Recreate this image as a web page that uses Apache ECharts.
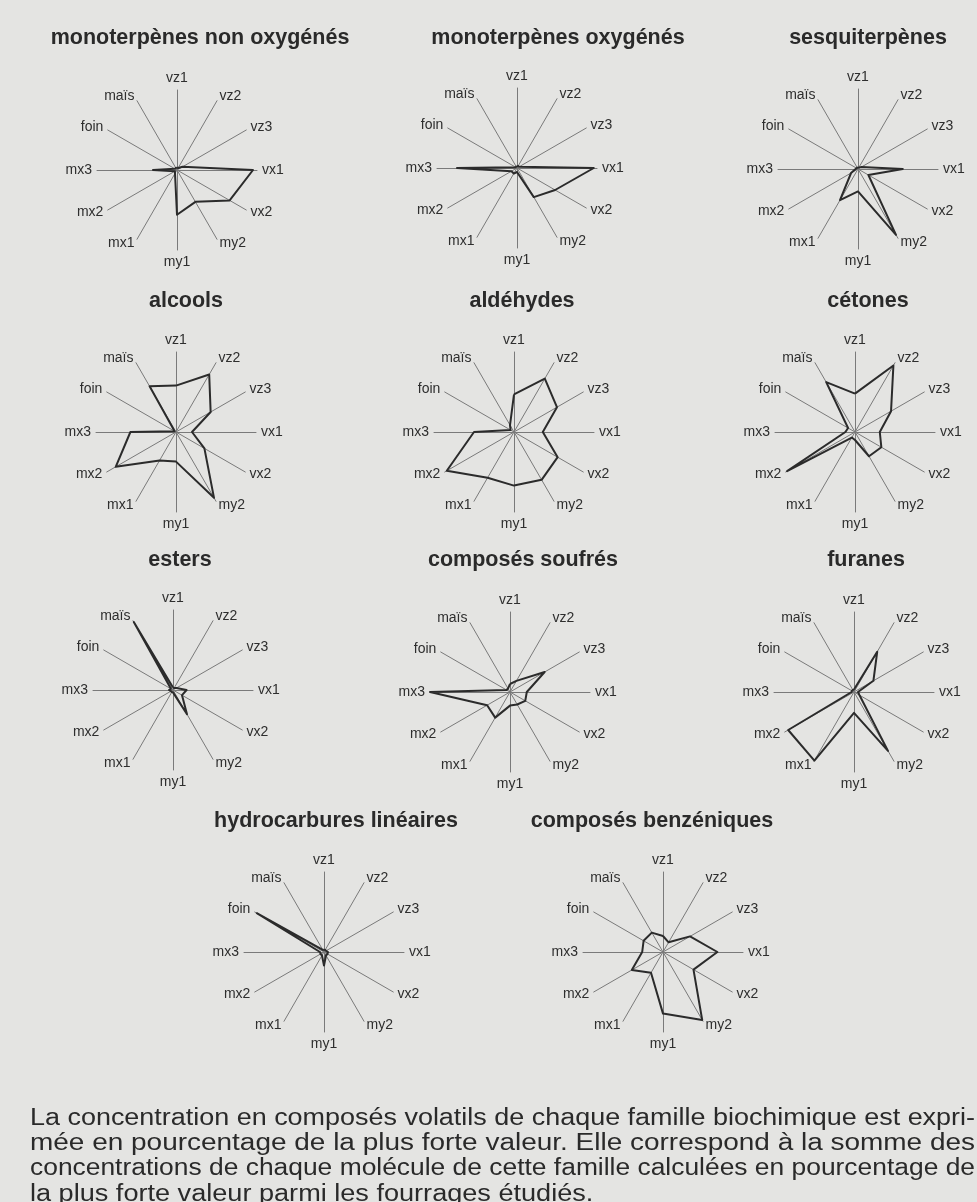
<!DOCTYPE html>
<html>
<head>
<meta charset="utf-8">
<script src="https://cdn.jsdelivr.net/npm/echarts@6/dist/echarts.min.js"></script>
<style>
  html, body { margin: 0; padding: 0; background: #e4e4e2; }
  #main { width: 977px; height: 1202px; }
</style>
</head>
<body>
<div id="main"></div>
<script>
// axes in the order of the figure, clockwise from the top
const fourrages = ['vz1', 'vz2', 'vz3', 'vx1', 'vx2', 'my2', 'my1', 'mx1', 'mx2', 'mx3', 'foin', 'maïs'];

const familles = [
  'monoterpènes non oxygénés', 'monoterpènes oxygénés', 'sesquiterpènes',
  'alcools', 'aldéhydes', 'cétones',
  'esters', 'composés soufrés', 'furanes',
  'hydrocarbures linéaires', 'composés benzéniques'
];

// % de la plus forte valeur, same order as fourrages
const monoterpenesNonOxy = [3, 3, 8, 95, 76, 46, 56, 5, 3, 30, 3, 3];
const monoterpenesOxy = [2, 3, 3, 96, 55, 42, 5, 8, 8, 75, 2, 2];
const sesquiterpenes = [2, 2, 5, 56, 15, 95, 28, 45, 10, 3, 2, 2];
const alcools = [58, 83, 50, 20, 41, 95, 37, 41, 87, 57, 2, 66];
const aldehydes = [47, 77, 62, 36, 63, 69, 67, 66, 97, 50, 5, 10];
const cetones = [48, 96, 52, 31, 38, 35, 10, 8, 98, 12, 10, 72];
const esters = [3, 3, 5, 17, 13, 35, 3, 3, 3, 5, 3, 98];
const soufres = [10, 16, 50, 21, 22, 18, 17, 37, 33, 100, 5, 5];
const furanes = [3, 58, 28, 5, 8, 85, 26, 99, 95, 3, 3, 3];
const hydrocarbures = [3, 3, 3, 5, 5, 5, 17, 5, 5, 5, 97, 3];
const benzeniques = [20, 14, 39, 68, 44, 98, 77, 30, 45, 26, 28, 28];

const valeurs = [monoterpenesNonOxy, monoterpenesOxy, sesquiterpenes, alcools, aldehydes,
  cetones, esters, soufres, furanes, hydrocarbures, benzeniques];

const legende = [
  'La concentration en composés volatils de chaque famille biochimique est expri-',
  'mée en pourcentage de la plus forte valeur. Elle correspond à la somme des',
  'concentrations de chaque molécule de cette famille calculées en pourcentage de',
  'la plus forte valeur parmi les fourrages étudiés.'
];

// layout
const centres = [[177, 170], [517, 168], [858, 169],
  [176, 432], [514, 432], [855, 432],
  [173, 690], [510, 692], [854, 692],
  [324, 952], [663, 952]];
const titresPos = [[200, 40], [558, 40], [868, 40],
  [186, 303], [522, 303], [868, 303],
  [180, 562], [523, 562], [866, 562],
  [336, 823], [652, 823]];
const rayon = 80;
const police = '"Liberation Sans", Arial, Helvetica, sans-serif';

// echarts places radar indicators counter-clockwise, the figure goes clockwise
const ordre = fourrages.map(function (_, i) { return (fourrages.length - i) % fourrages.length; });
function reordonne(arr) {
  return ordre.map(function (k) { return arr[k]; });
}

const chart = echarts.init(document.getElementById('main'), null, { renderer: 'canvas' });

const radars = centres.map(function (c) {
  return {
    center: c,
    radius: rayon,
    startAngle: 90,
    indicator: reordonne(fourrages).map(function (n) { return { name: n, max: 100, min: 0 }; }),
    axisName: { color: '#2e2e2e', fontSize: 14, fontFamily: police },
    nameGap: 5,
    splitNumber: 1,
    axisLine: { lineStyle: { color: '#7a7a7a', width: 1 } },
    splitLine: { show: false },
    splitArea: { show: false }
  };
});

const series = valeurs.map(function (v, i) {
  return {
    type: 'radar',
    radarIndex: i,
    symbol: 'none',
    silent: true,
    lineStyle: { color: '#2b2b2b', width: 2 },
    data: [{ value: reordonne(v), name: familles[i] }]
  };
});

const titres = familles.map(function (f, i) {
  return {
    text: f,
    left: titresPos[i][0],
    top: titresPos[i][1] - 13,
    textAlign: 'center',
    padding: 0,
    textStyle: { fontSize: 21.5, fontWeight: 'bold', color: '#2a2a2a', fontFamily: police }
  };
});

// caption lines, fitted to the full width (justified in the original)
const ctx = document.createElement('canvas').getContext('2d');
const policeLegende = '23px "Liberation Sans", Arial, sans-serif';
ctx.font = policeLegende;
const largeur = 945;
const echelles = legende.map(function (l) { return largeur / ctx.measureText(l).width; });
const echelleMoy = (echelles[0] + echelles[1] + echelles[2]) / 3;
const texte = legende.map(function (l, i) {
  return {
    type: 'text',
    x: 30,
    y: 1107 + i * 25.3,
    scaleX: i < 3 ? echelles[i] : echelleMoy,
    style: { text: l, font: policeLegende, fill: '#2a2a2a' }
  };
});

chart.setOption({
  backgroundColor: '#e4e4e2',
  animation: false,
  title: titres,
  radar: radars,
  series: series,
  graphic: texte
});
</script>
</body>
</html>
